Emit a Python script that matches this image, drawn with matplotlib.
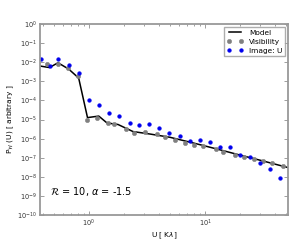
# coding: utf-8

import numpy as np
import matplotlib
matplotlib.use('Agg')
import matplotlib.pyplot as plt

# model curve (log10 U, log10 P)
model_logu = [-0.422, -0.341, -0.267, -0.175, -0.089, -0.013, 0.084, 0.155,
              0.250, 0.379, 0.526, 0.698, 0.90, 1.10, 1.30, 1.50, 1.718]
model_logp = [-2.20, -2.28, -2.03, -2.36, -2.83, -4.90, -4.82, -5.18,
              -5.26, -5.63, -5.76, -5.93, -6.23, -6.54, -6.86, -7.17, -7.52]

# visibility points
vis_logu = [-0.358, -0.267, -0.177, -0.099, -0.015, 0.066, 0.161, 0.218, 0.319,
            0.391, 0.483, 0.589, 0.658, 0.744, 0.828, 0.908, 0.985, 1.092,
            1.158, 1.259, 1.336, 1.422, 1.497, 1.575, 1.670]
vis_logp = [-2.09, -2.07, -2.28, -2.70, -5.05, -4.92, -5.18, -5.24, -5.50,
            -5.69, -5.64, -5.74, -5.92, -6.09, -6.21, -6.32, -6.39, -6.56,
            -6.69, -6.84, -6.98, -7.08, -7.19, -7.29, -7.43]

# image points
img_logu = [-0.414, -0.336, -0.267, -0.175, -0.089, 0.0, 0.089, 0.175, 0.261,
            0.353, 0.434, 0.520, 0.606, 0.692, 0.784, 0.871, 0.957, 1.043,
            1.129, 1.216, 1.302, 1.388, 1.474, 1.560, 1.647]
img_logp = [-1.83, -2.18, -1.83, -2.16, -2.57, -4.00, -4.26, -4.68, -4.81,
            -5.18, -5.29, -5.25, -5.45, -5.72, -5.88, -6.11, -6.07, -6.18,
            -6.42, -6.46, -6.86, -6.95, -7.29, -7.61, -8.06]

fig = plt.figure(figsize=(2.94, 2.40), dpi=100)
ax = fig.add_axes([0.136, 0.104, 0.844, 0.796])

ax.plot(10 ** np.array(model_logu), 10 ** np.array(model_logp), '-',
        color='black', lw=1.1, label='Model')
ax.plot(10 ** np.array(vis_logu), 10 ** np.array(vis_logp), 'o',
        color='gray', ms=3.2, mec='gray', mew=0.3, label='Visibility')
ax.plot(10 ** np.array(img_logu), 10 ** np.array(img_logp), 'o',
        color='#0000ee', ms=2.7, mec='#0000ee', mew=0.3, label='Image: U')

ax.set_xscale('log')
ax.set_yscale('log')
ax.set_xlim(0.378, 52)
ax.set_ylim(1e-10, 1e0)
ax.set_yticks([10.0 ** k for k in range(-10, 1)])
ax.yaxis.set_minor_locator(matplotlib.ticker.NullLocator())

for s in ax.spines.values():
    s.set_color('#999999')
    s.set_linewidth(1.3)
ax.tick_params(which='both', direction='in', top=True, right=True,
               labelsize=4.8, color='#777777', labelcolor='#333333', pad=2)
ax.tick_params(which='major', length=3, width=0.5)
ax.tick_params(which='minor', length=1.5, width=0.5)

ax.set_xlabel(u'U [ K$\\lambda$]', fontsize=5.3, labelpad=1)
ax.set_ylabel(u'P$_{\\mathcal{W}}$ (U) [ arbitrary ]', fontsize=5.3, labelpad=1)

ax.text(0.04, 0.105, u'$\\mathcal{R}$ = 10, $\\alpha$ = -1.5',
        transform=ax.transAxes, fontsize=7)

leg = ax.legend(loc='upper right', fontsize=5.3, numpoints=2,
                fancybox=False, borderaxespad=0.4, handlelength=2.2,
                labelspacing=0.35)
leg.get_frame().set_edgecolor('#999999')
leg.get_frame().set_linewidth(1.0)

fig.savefig('out.png', dpi=100)
